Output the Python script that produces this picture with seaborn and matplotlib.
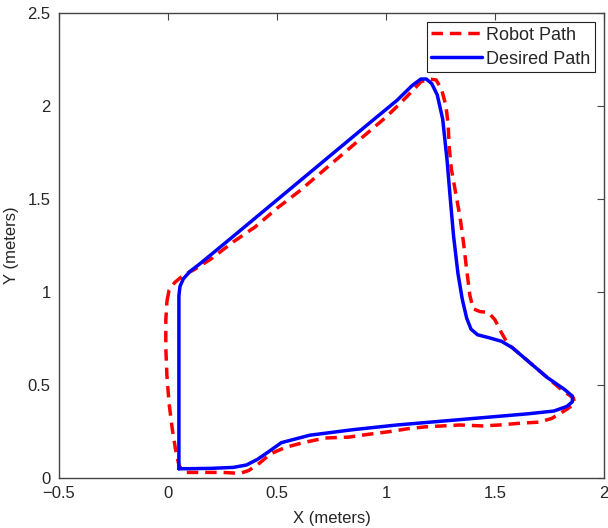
import numpy as np
import pandas as pd
import matplotlib
matplotlib.use("Agg")
import matplotlib.pyplot as plt
import seaborn as sns

# desired path (blue), one closed loop
desired_x = [0.05, 0.05, 0.05, 0.05, 0.05, 0.055, 0.07, 0.10, 0.15, 0.30, 0.50, 0.70,
             0.90, 1.05, 1.12, 1.16, 1.185, 1.21, 1.235, 1.26, 1.28, 1.295, 1.31, 1.33,
             1.35, 1.37, 1.39, 1.42, 1.47, 1.53, 1.58, 1.65, 1.74, 1.82, 1.855, 1.855,
             1.83, 1.77, 1.65, 1.45, 1.25, 1.05, 0.85, 0.65, 0.52, 0.46, 0.41, 0.36,
             0.30, 0.20, 0.10, 0.05]
desired_y = [0.05, 0.30, 0.60, 0.90, 0.98, 1.03, 1.07, 1.11, 1.155, 1.30, 1.495, 1.69,
             1.885, 2.03, 2.11, 2.145, 2.145, 2.12, 2.06, 1.93, 1.71, 1.50, 1.30, 1.10,
             0.96, 0.86, 0.80, 0.77, 0.755, 0.735, 0.70, 0.63, 0.54, 0.475, 0.44, 0.41,
             0.385, 0.36, 0.345, 0.325, 0.305, 0.285, 0.26, 0.23, 0.19, 0.14, 0.10, 0.07,
             0.057, 0.052, 0.05, 0.05]

# robot path (red dashed)
robot_x = [-0.005, 0.005, 0.03, 0.07, 0.12, 0.20, 0.30, 0.40, 0.50, 0.60, 0.70, 0.80,
           0.90, 1.00, 1.07, 1.12, 1.16, 1.20, 1.23, 1.255, 1.275, 1.285, 1.29, 1.30,
           1.32, 1.34, 1.355, 1.37, 1.385, 1.40, 1.43, 1.47, 1.50, 1.53, 1.56, 1.62,
           1.68, 1.75, 1.81, 1.86, 1.865, 1.83, 1.76, 1.70, 1.62, 1.52, 1.44, 1.34,
           1.26, 1.18, 1.10, 1.02, 0.92, 0.83, 0.72, 0.62, 0.54, 0.47, 0.42, 0.37,
           0.33, 0.25, 0.15, 0.07, 0.05, 0.035, 0.02, 0.005, -0.005, -0.01, -0.01, -0.005]
robot_y = [0.95, 1.01, 1.05, 1.09, 1.12, 1.18, 1.27, 1.35, 1.45, 1.54, 1.64, 1.74,
           1.84, 1.94, 2.02, 2.08, 2.13, 2.145, 2.14, 2.09, 2.00, 1.90, 1.78, 1.66,
           1.53, 1.40, 1.27, 1.12, 0.98, 0.91, 0.895, 0.89, 0.85, 0.78, 0.72, 0.66,
           0.60, 0.53, 0.47, 0.43, 0.40, 0.37, 0.32, 0.30, 0.295, 0.285, 0.28, 0.285,
           0.28, 0.275, 0.265, 0.25, 0.235, 0.22, 0.215, 0.19, 0.165, 0.13, 0.08, 0.04,
           0.025, 0.03, 0.03, 0.03, 0.07, 0.15, 0.26, 0.40, 0.55, 0.70, 0.85, 0.95]

x_ticks = [-0.5, 0, 0.5, 1, 1.5, 2]
x_labels = ["\u22120.5", "0", "0.5", "1", "1.5", "2"]
y_ticks = [0, 0.5, 1, 1.5, 2, 2.5]
y_labels = ["0", "0.5", "1", "1.5", "2", "2.5"]

sns.set_style("white")
plt.rcParams["font.family"] = ["Liberation Sans", "DejaVu Sans"]

robot = pd.DataFrame({"x": robot_x, "y": robot_y})
desired = pd.DataFrame({"x": desired_x, "y": desired_y})

fig = plt.figure(figsize=(6.08, 5.28), dpi=100)
ax = fig.add_axes([59 / 608, 1 - 478 / 528, 545 / 608, 465 / 528])

dash = [3.3, 2.0]
sns.lineplot(data=robot, x="x", y="y", sort=False, estimator=None, ax=ax,
             color="#ff0000", linewidth=2.5, label="Robot Path")
ax.lines[-1].set_dashes(dash)
sns.lineplot(data=desired, x="x", y="y", sort=False, estimator=None, ax=ax,
             color="#0000ff", linewidth=2.5, label="Desired Path")

ax.set_xlim(-0.5, 2)
ax.set_ylim(0, 2.5)
ax.set_xticks(x_ticks)
ax.set_xticklabels(x_labels)
ax.set_yticks(y_ticks)
ax.set_yticklabels(y_labels)
ax.tick_params(direction="in", length=5, width=0.8, color="#444444",
               top=True, right=True, labelsize=12, pad=6)
for s in ax.spines.values():
    s.set_color("#444444")
    s.set_linewidth(1.0)

ax.set_xlabel("X (meters)", fontsize=12, labelpad=7)
ax.set_ylabel("Y (meters)", fontsize=12, labelpad=6)

leg = ax.legend(loc="upper right", fontsize=13, frameon=True, fancybox=False,
                edgecolor="#222222", framealpha=1, borderaxespad=0.5,
                handlelength=2.8, handletextpad=0.25, borderpad=0.25, labelspacing=0.4)
leg.get_frame().set_linewidth(0.8)
leg.get_lines()[0].set_dashes(dash)

fig.savefig("out.png", dpi=100)
